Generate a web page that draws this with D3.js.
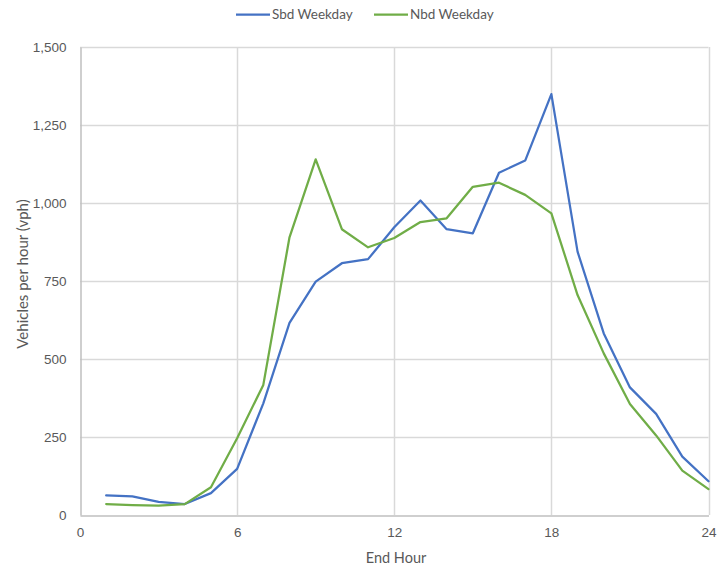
<!DOCTYPE html>
<html>
<head>
<meta charset="utf-8">
<script src="https://cdn.jsdelivr.net/npm/d3@7"></script>
<style>
  html, body { margin: 0; padding: 0; background: #fff; }
  svg { display: block; font-family: Lato, "Open Sans", "Liberation Sans", sans-serif; }
</style>
</head>
<body>
<svg id="chart" width="717" height="567"></svg>
<script>
// Hourly weekday volumes by direction
const hours = [1, 2, 3, 4, 5, 6, 7, 8, 9, 10, 11, 12, 13, 14, 15, 16, 17, 18, 19, 20, 21, 22, 23, 24];
const sbdWeekday = [63, 60, 42, 35, 70, 148, 358, 616, 748, 807, 820, 922, 1008, 916, 903, 1097, 1136, 1349, 844, 582, 409, 324, 187, 108];
const nbdWeekday = [35, 32, 30, 35, 89, 246, 417, 890, 1140, 916, 858, 888, 939, 951, 1052, 1065, 1026, 967, 705, 518, 356, 255, 142, 83];
const xTicks = [0, 6, 12, 18, 24];
const yTicks = [0, 250, 500, 750, 1000, 1250, 1500];

const seriesList = [
  { name: "Sbd Weekday", values: sbdWeekday, color: "#4472C4" },
  { name: "Nbd Weekday", values: nbdWeekday, color: "#70AD47" }
];

const svg = d3.select("#chart");
const margin = { left: 80, right: 8, top: 47, bottom: 52 };
const width = 717, height = 567;

const x = d3.scaleLinear().domain([0, 24]).range([margin.left, width - margin.right - 0.5]);
const y = d3.scaleLinear().domain([0, 1500]).range([height - margin.bottom, margin.top]);

const textColor = "#595959";
const gridColor = "#d9d9d9";

// Horizontal gridlines
svg.append("g")
  .selectAll("line")
  .data(yTicks.filter(d => d > 0))
  .join("line")
  .attr("x1", x(0)).attr("x2", x(24))
  .attr("y1", d => Math.round(y(d)) + 0.5).attr("y2", d => Math.round(y(d)) + 0.5)
  .attr("stroke", gridColor).attr("stroke-width", 1.5);

// Vertical gridlines
svg.append("g")
  .selectAll("line")
  .data(xTicks.filter(d => d > 0))
  .join("line")
  .attr("x1", d => Math.round(x(d)) + 0.5).attr("x2", d => Math.round(x(d)) + 0.5)
  .attr("y1", y(0)).attr("y2", y(1500))
  .attr("stroke", gridColor).attr("stroke-width", 1.5);

// Axes
const xAxis = d3.axisBottom(x).tickValues(xTicks).tickSize(0).tickPadding(12);
const yAxis = d3.axisLeft(y).tickValues(yTicks).tickSize(0).tickPadding(14).tickFormat(d3.format(","));

const gx = svg.append("g").attr("transform", `translate(0,${Math.round(y(0)) + 0.5})`).call(xAxis);
const gy = svg.append("g").attr("transform", `translate(${Math.round(x(0)) + 0.5},0)`).call(yAxis);

[gx, gy].forEach(g => {
  g.select(".domain").attr("stroke", "#bfbfbf").attr("stroke-width", 1.5);
  g.selectAll("text").attr("fill", textColor).attr("font-size", 13.5);
});

// Lines
const line = d3.line().x((d, i) => x(hours[i])).y(d => y(d));
svg.append("g")
  .selectAll("path")
  .data(seriesList)
  .join("path")
  .attr("d", d => line(d.values))
  .attr("fill", "none")
  .attr("stroke", d => d.color)
  .attr("stroke-width", 2.25)
  .attr("stroke-linejoin", "round")
  .attr("stroke-linecap", "round");

// Axis titles
svg.append("text")
  .attr("x", 396).attr("y", 563)
  .attr("text-anchor", "middle").attr("fill", textColor).attr("font-size", 14.5)
  .text("End Hour");

svg.append("text")
  .attr("transform", "translate(28,274) rotate(-90)")
  .attr("text-anchor", "middle").attr("fill", textColor).attr("font-size", 15)
  .text("Vehicles per hour (vph)");

// Legend
const legendItems = [
  { s: seriesList[0], x0: 236 },
  { s: seriesList[1], x0: 374 }
];
const lg = svg.append("g");
legendItems.forEach(item => {
  lg.append("line")
    .attr("x1", item.x0).attr("x2", item.x0 + 34)
    .attr("y1", 14.5).attr("y2", 14.5)
    .attr("stroke", item.s.color).attr("stroke-width", 2.25);
  lg.append("text")
    .attr("x", item.x0 + 36).attr("y", 19)
    .attr("fill", textColor).attr("font-size", 13.5)
    .text(item.s.name);
});
</script>
</body>
</html>
